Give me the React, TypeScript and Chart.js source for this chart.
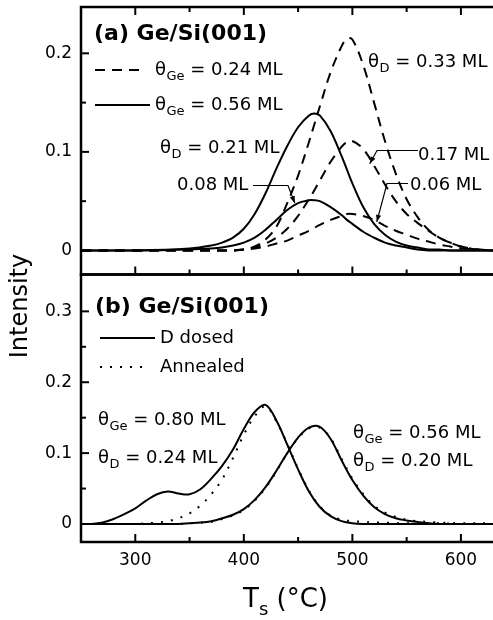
import React, { useEffect, useRef } from 'react';
import { Chart, registerables } from 'chart.js';
Chart.register(...registerables);

// ---------- Panel (a): Ge/Si(001) ----------
const tempsA = [250, 300, 350, 370, 380, 390, 400, 410, 420, 430, 440, 450, 460, 465, 470, 480, 490, 495, 500, 510, 520, 530, 540, 550, 560, 570, 580, 590, 600, 615, 630];
// theta_Ge = 0.24 ML (dashed)
const dashedD033 = [0, 0, 0, 0, 0, 0, 0.001, 0.004, 0.011, 0.024, 0.048, 0.076, 0.110, 0.128, 0.146, 0.181, 0.207, 0.215, 0.214, 0.188, 0.150, 0.111, 0.078, 0.052, 0.034, 0.021, 0.013, 0.008, 0.004, 0.001, 0];
const dashedD017 = [0, 0, 0, 0, 0, 0, 0.001, 0.003, 0.007, 0.013, 0.022, 0.035, 0.052, 0.061, 0.071, 0.090, 0.105, 0.110, 0.111, 0.103, 0.086, 0.067, 0.050, 0.037, 0.028, 0.020, 0.013, 0.008, 0.004, 0.001, 0];
const dashedD006 = [0, 0, 0, 0, 0, 0, 0.001, 0.002, 0.004, 0.007, 0.010, 0.015, 0.020, 0.023, 0.026, 0.031, 0.035, 0.037, 0.037, 0.035, 0.031, 0.025, 0.020, 0.016, 0.012, 0.009, 0.006, 0.004, 0.002, 0.001, 0];
// theta_Ge = 0.56 ML (solid)
const solidD021 = [0, 0, 0.002, 0.005, 0.008, 0.013, 0.022, 0.037, 0.058, 0.083, 0.106, 0.125, 0.137, 0.139, 0.137, 0.121, 0.096, 0.082, 0.068, 0.044, 0.027, 0.016, 0.009, 0.005, 0.003, 0.001, 0.001, 0, 0, 0, 0];
const solidD008 = [0, 0, 0.001, 0.002, 0.003, 0.005, 0.008, 0.013, 0.021, 0.031, 0.041, 0.048, 0.051, 0.051, 0.050, 0.044, 0.036, 0.031, 0.027, 0.019, 0.013, 0.008, 0.005, 0.003, 0.001, 0, 0, 0, 0, 0, 0];

// ---------- Panel (b): Ge/Si(001) ----------
const tempsB = [250, 260, 270, 280, 290, 300, 310, 320, 330, 340, 350, 360, 370, 380, 390, 400, 410, 420, 430, 440, 450, 460, 470, 480, 490, 500, 510, 520, 530, 540, 550, 560, 570, 580, 600, 630];
const dosedGe080 = [0, 0, 0.002, 0.007, 0.014, 0.022, 0.033, 0.042, 0.046, 0.043, 0.042, 0.049, 0.064, 0.082, 0.105, 0.134, 0.158, 0.168, 0.146, 0.112, 0.077, 0.046, 0.024, 0.011, 0.004, 0.001, 0, 0, 0, 0, 0, 0, 0, 0, 0, 0];
const annealedGe080 = [0, 0, 0, 0, 0, 0, 0.001, 0.002, 0.004, 0.008, 0.015, 0.026, 0.042, 0.063, 0.093, 0.126, 0.152, 0.166, 0.145, 0.113, 0.078, 0.047, 0.025, 0.012, 0.006, 0.004, 0.003, 0.002, 0.002, 0.001, 0.001, 0.001, 0.001, 0.001, 0, 0];
const dosedGe056 = [0, 0, 0, 0, 0, 0, 0, 0, 0, 0, 0.001, 0.002, 0.004, 0.008, 0.013, 0.021, 0.034, 0.052, 0.075, 0.100, 0.122, 0.136, 0.137, 0.120, 0.090, 0.062, 0.040, 0.024, 0.014, 0.008, 0.005, 0.003, 0.001, 0, 0, 0];
const annealedGe056 = [0, 0, 0, 0, 0, 0, 0, 0, 0, 0, 0.001, 0.002, 0.003, 0.007, 0.012, 0.020, 0.033, 0.051, 0.074, 0.100, 0.121, 0.135, 0.136, 0.121, 0.092, 0.064, 0.042, 0.026, 0.016, 0.010, 0.006, 0.004, 0.003, 0.002, 0.001, 0.001];

// ---------- Axes ----------
const xTickValues = [300, 350, 400, 450, 500, 550, 600];
const yTicksA = [0, 0.05, 0.1, 0.15, 0.2];
const yTicksB = [0, 0.05, 0.1, 0.15, 0.2, 0.25, 0.3];

const FAM = '"DejaVu Sans", sans-serif';
const DASH = [10, 7];
const DOT = [2, 8];

const pts = (xs: number[], ys: number[]) => xs.map((x, i) => ({ x, y: ys[i] }));

const isMajor = (v: number) => Math.abs(v * 10 - Math.round(v * 10)) < 1e-6;

function drawTheta(ctx: CanvasRenderingContext2D, x: number, y: number, sub: string, rest: string) {
  ctx.textAlign = 'left';
  ctx.textBaseline = 'middle';
  ctx.font = `18px ${FAM}`;
  ctx.fillText('θ', x, y);
  const w1 = ctx.measureText('θ').width;
  ctx.font = `13px ${FAM}`;
  ctx.fillText(sub, x + w1 + 0.5, y + 7);
  const w2 = ctx.measureText(sub).width;
  ctx.font = `18px ${FAM}`;
  ctx.fillText(rest, x + w1 + w2 + 0.5, y);
}

function line(ctx: CanvasRenderingContext2D, x1: number, y1: number, x2: number, y2: number) {
  ctx.beginPath();
  ctx.moveTo(x1, y1);
  ctx.lineTo(x2, y2);
  ctx.stroke();
}

function leader(ctx: CanvasRenderingContext2D, pts2: [number, number][]) {
  ctx.save();
  ctx.lineWidth = 1.2;
  ctx.setLineDash([]);
  ctx.beginPath();
  ctx.moveTo(pts2[0][0], pts2[0][1]);
  for (let i = 1; i < pts2.length; i++) ctx.lineTo(pts2[i][0], pts2[i][1]);
  ctx.stroke();
  const [ax, ay] = pts2[pts2.length - 2];
  const [bx, by] = pts2[pts2.length - 1];
  const ang = Math.atan2(by - ay, bx - ax);
  const L = 7, W = 2.6;
  ctx.beginPath();
  ctx.moveTo(bx, by);
  ctx.lineTo(bx - L * Math.cos(ang) + W * Math.sin(ang), by - L * Math.sin(ang) - W * Math.cos(ang));
  ctx.lineTo(bx - L * Math.cos(ang) - W * Math.sin(ang), by - L * Math.sin(ang) + W * Math.cos(ang));
  ctx.closePath();
  ctx.fill();
  ctx.restore();
}

const decorPlugin = {
  id: 'decor',
  afterDatasetsDraw(chart: any) {
    const ctx: CanvasRenderingContext2D = chart.ctx;
    const sx = chart.scales.x;
    const ya = chart.scales.ya;
    const yb = chart.scales.yb;
    ctx.save();
    ctx.strokeStyle = '#000';
    ctx.fillStyle = '#000';
    ctx.lineCap = 'butt';

    // frames
    const L = sx.left, R = sx.right;
    ctx.lineWidth = 2.5;
    ctx.strokeRect(L, ya.top, R - L, ya.bottom - ya.top);
    ctx.strokeRect(L, yb.top, R - L, yb.bottom - yb.top);

    // x ticks (inward)
    ctx.lineWidth = 2;
    for (const v of xTickValues) {
      const px = sx.getPixelForValue(v);
      const len = v % 100 === 0 ? 8 : 5;
      line(ctx, px, ya.top, px, ya.top + len);
      line(ctx, px, ya.bottom, px, ya.bottom - len);
      line(ctx, px, yb.bottom, px, yb.bottom - len);
    }
    // y ticks (inward)
    for (const v of yTicksA) {
      const py = ya.getPixelForValue(v);
      line(ctx, L, py, L + (isMajor(v) ? 8 : 5), py);
    }
    for (const v of yTicksB) {
      const py = yb.getPixelForValue(v);
      line(ctx, L, py, L + (isMajor(v) ? 8 : 5), py);
    }

    // ---- panel (a) texts ----
    ctx.textAlign = 'left';
    ctx.textBaseline = 'middle';
    ctx.font = `bold 22px ${FAM}`;
    ctx.fillText('(a) Ge/Si(001)', 94, 34);

    ctx.lineWidth = 2;
    ctx.setLineDash(DASH);
    line(ctx, 95, 70, 145, 70);
    ctx.setLineDash([]);
    line(ctx, 95, 105, 150, 105);
    drawTheta(ctx, 155, 70, 'Ge', ' = 0.24 ML');
    drawTheta(ctx, 155, 105, 'Ge', ' = 0.56 ML');
    drawTheta(ctx, 160, 148, 'D', ' = 0.21 ML');
    drawTheta(ctx, 368, 62, 'D', ' = 0.33 ML');

    ctx.font = `18px ${FAM}`;
    ctx.fillText('0.08 ML', 177, 185);
    ctx.fillText('0.17 ML', 418, 155);
    ctx.fillText('0.06 ML', 410, 185);

    leader(ctx, [[253, 185.5], [288, 185.5], [sx.getPixelForValue(447), ya.getPixelForValue(0.048)]]);
    leader(ctx, [[418, 150.5], [377, 150.5], [sx.getPixelForValue(516), ya.getPixelForValue(0.088)]]);
    leader(ctx, [[408, 183.5], [387, 183.5], [sx.getPixelForValue(522.5), ya.getPixelForValue(0.029)]]);

    // ---- panel (b) texts ----
    ctx.textAlign = 'left';
    ctx.textBaseline = 'middle';
    ctx.font = `bold 22px ${FAM}`;
    ctx.fillText('(b) Ge/Si(001)', 95, 307);

    ctx.lineWidth = 2;
    ctx.setLineDash([]);
    line(ctx, 100, 338, 155, 338);
    ctx.setLineDash(DOT);
    line(ctx, 100, 367, 150, 367);
    ctx.setLineDash([]);
    ctx.font = `18px ${FAM}`;
    ctx.fillText('D dosed', 160, 338);
    ctx.fillText('Annealed', 160, 367);
    drawTheta(ctx, 98, 420, 'Ge', ' = 0.80 ML');
    drawTheta(ctx, 98, 458, 'D', ' = 0.24 ML');
    drawTheta(ctx, 353, 433, 'Ge', ' = 0.56 ML');
    drawTheta(ctx, 353, 461, 'D', ' = 0.20 ML');

    // ---- axis titles ----
    ctx.save();
    ctx.translate(27, 306);
    ctx.rotate(-Math.PI / 2);
    ctx.textAlign = 'center';
    ctx.textBaseline = 'alphabetic';
    ctx.font = `24px ${FAM}`;
    ctx.fillText('Intensity', 0, 0);
    ctx.restore();

    ctx.textBaseline = 'alphabetic';
    ctx.textAlign = 'left';
    ctx.font = `26px ${FAM}`;
    const wT = ctx.measureText('T').width;
    const wRest = ctx.measureText(' (°C)').width;
    ctx.font = `18px ${FAM}`;
    const wS = ctx.measureText('s').width;
    const total = wT + wS + wRest;
    let xx = 285.5 - total / 2;
    ctx.font = `26px ${FAM}`;
    ctx.fillText('T', xx, 607);
    xx += wT;
    ctx.font = `18px ${FAM}`;
    ctx.fillText('s', xx, 615);
    xx += wS;
    ctx.font = `26px ${FAM}`;
    ctx.fillText(' (°C)', xx, 607);

    ctx.restore();
  },
};

export default function App() {
  const ref = useRef<HTMLCanvasElement | null>(null);
  useEffect(() => {
    if (!ref.current) return;
    const solid = (data: number[], xs: number[], axis: string) => ({
      data: pts(xs, data), yAxisID: axis, borderColor: '#000', borderWidth: 2,
      pointRadius: 0, fill: false, tension: 0.35, borderJoinStyle: 'round' as const,
    });
    const tickFont = { family: FAM, size: 17 };
    const yCommon = (ticks: number[]) => ({
      type: 'linear' as const,
      position: 'left' as const,
      stack: 'panels',
      stackWeight: 1,
      grid: { display: false, drawTicks: false },
      border: { display: false },
      ticks: {
        color: '#000', font: tickFont, padding: 9,
        callback: (v: any) => (Math.abs(v) < 1e-9 ? '0' : isMajor(v) ? Number(v).toFixed(1) : ''),
      },
      afterBuildTicks: (s: any) => { s.ticks = ticks.map((v) => ({ value: v })); },
      afterFit: (s: any) => { s.width = 81; s.paddingTop = 0; s.paddingBottom = 0; s.paddingLeft = 0; s.paddingRight = 0; },
    });
    const chart = new Chart(ref.current, {
      type: 'line',
      data: {
        datasets: [
          { ...solid(dashedD033, tempsA, 'ya'), borderDash: DASH },
          { ...solid(dashedD017, tempsA, 'ya'), borderDash: DASH },
          { ...solid(dashedD006, tempsA, 'ya'), borderDash: DASH },
          solid(solidD021, tempsA, 'ya'),
          solid(solidD008, tempsA, 'ya'),
          solid(dosedGe080, tempsB, 'yb'),
          { ...solid(annealedGe080, tempsB, 'yb'), borderDash: DOT },
          solid(dosedGe056, tempsB, 'yb'),
          { ...solid(annealedGe056, tempsB, 'yb'), borderDash: DOT },
        ],
      },
      options: {
        responsive: false,
        animation: false,
        events: [],
        layout: { padding: { top: 7, left: 0, right: 5, bottom: 0 }, autoPadding: false },
        plugins: { legend: { display: false }, tooltip: { enabled: false } },
        scales: {
          x: {
            type: 'linear', position: 'bottom', min: 250, max: 631.4,
            grid: { display: false, drawTicks: false },
            border: { display: false },
            ticks: {
              color: '#000', font: tickFont, padding: 8, autoSkip: false, maxRotation: 0,
              callback: (v: any) => (Number(v) % 100 === 0 ? String(v) : ''),
            },
            afterBuildTicks: (s: any) => { s.ticks = xTickValues.map((v) => ({ value: v })); },
            afterFit: (s: any) => { s.height = 78; s.paddingLeft = 0; s.paddingRight = 0; s.paddingTop = 0; s.paddingBottom = 0; },
          },
          // bottom panel listed first: Chart.js stacks the later-listed axis on top
          yb: { ...yCommon(yTicksB), min: -0.0254, max: 0.352 },
          ya: { ...yCommon(yTicksA), min: -0.0244, max: 0.247 },
        },
      } as any,
      plugins: [decorPlugin],
    });
    return () => chart.destroy();
  }, []);
  return (
    <div style={{ position: 'absolute', left: 0, top: 0, width: 493, height: 620, overflow: 'hidden', background: '#fff' }}>
      <canvas ref={ref} width={500} height={620} style={{ display: 'block' }} />
    </div>
  );
}
